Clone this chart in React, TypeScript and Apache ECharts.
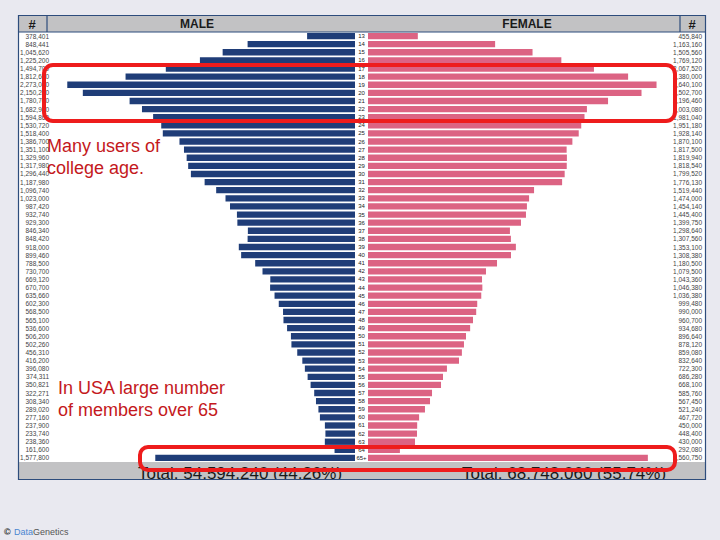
import React, { useEffect, useRef } from "react";
import * as echarts from "echarts";

const ages: string[] = [
  "13","14","15","16","17","18","19","20","21","22","23","24","25","26","27","28","29","30",
  "31","32","33","34","35","36","37","38","39","40","41","42","43","44","45","46","47","48",
  "49","50","51","52","53","54","55","56","57","58","59","60","61","62","63","64","65+",
];

const maleValues: number[] = [
  378401, 848441, 1045620, 1225200, 1494700, 1812600, 2273040, 2150200, 1780700, 1682900,
  1594860, 1530720, 1518400, 1386700, 1351100, 1329960, 1317980, 1296440, 1187980, 1096740,
  1023000, 987420, 932740, 929300, 846340, 848420, 918000, 899460, 788500, 730700,
  669120, 670700, 635660, 602300, 568500, 565100, 536600, 506200, 502260, 456310,
  416200, 396080, 374311, 350821, 322271, 308340, 289020, 277160, 237900, 233740,
  238360, 161600, 1577800,
];

const femaleValues: number[] = [
  455840, 1163160, 1505560, 1769120, 2067520, 2380000, 2640100, 2502700, 2196460, 2003080,
  1981040, 1951180, 1928140, 1870100, 1817500, 1819940, 1818540, 1799520, 1776130, 1519440,
  1474000, 1454140, 1445400, 1399750, 1298640, 1307560, 1353100, 1308380, 1180500, 1079500,
  1043360, 1046380, 1036380, 999480, 990000, 960700, 934680, 896640, 878120, 859080,
  832640, 722300, 686280, 668100, 585760, 567450, 521240, 467720, 450000, 448400,
  430000, 292080, 2560750,
];

const headerLabels: string[] = ["#", "MALE", "FEMALE", "#"];
const totalLabels: string[] = ["Total: 54,594,240 (44.26%)", "Total: 68,748,060 (55.74%)"];
const noteTop: string[] = ["Many users of", "college age."];
const noteBottom: string[] = ["In USA large number", "of members over 65"];

const fmt = (v: number) => v.toLocaleString("en-US");

export default function App() {
  const ref = useRef<HTMLDivElement>(null);
  useEffect(() => {
    if (!ref.current) return;
    const chart = echarts.init(ref.current, null, { renderer: "svg" });
    const F = "Liberation Sans, Arial, sans-serif";
    const gridTop = 32;
    const gridH = 430;
    const male = "#1f3d78";
    const female = "#dc6383";
    const frame = "#2d4c7c";
    const redBox = "#ee1c1c";
    const redText = "#c41820";
    const bg = "#e9e9f0";

    chart.setOption({
      animation: false,
      backgroundColor: bg,
      grid: [
        { left: 50, top: gridTop, width: 305, height: gridH },
        { left: 368, top: gridTop, width: 332, height: gridH },
      ],
      xAxis: [
        { gridIndex: 0, type: "value", min: 0, max: 2409500, inverse: true, show: false },
        { gridIndex: 1, type: "value", min: 0, max: 3037800, show: false },
      ],
      yAxis: [
        {
          gridIndex: 0, type: "category", data: ages, inverse: true, position: "left",
          axisLine: { show: false }, axisTick: { show: false },
          axisLabel: {
            interval: 0, margin: 1, fontSize: 6.5, color: "#444", fontFamily: F,
            formatter: (_v: string, i: number) => fmt(maleValues[i]),
          },
        },
        {
          gridIndex: 0, type: "category", data: ages, inverse: true, position: "right",
          axisLine: { show: false }, axisTick: { show: false },
          axisLabel: { interval: 0, margin: 6.5, align: "center", fontSize: 6, color: "#222", fontFamily: F },
        },
        {
          gridIndex: 1, type: "category", data: ages, inverse: true, position: "right",
          axisLine: { show: false }, axisTick: { show: false },
          axisLabel: {
            interval: 0, margin: 2, align: "right", fontSize: 6.5, color: "#444", fontFamily: F,
            formatter: (_v: string, i: number) => fmt(femaleValues[i]),
          },
        },
      ],
      series: [
        {
          type: "bar", name: "MALE", xAxisIndex: 0, yAxisIndex: 0, data: maleValues,
          itemStyle: { color: male }, barCategoryGap: "22%", z: 3,
        },
        {
          type: "bar", name: "FEMALE", xAxisIndex: 1, yAxisIndex: 2, data: femaleValues,
          itemStyle: { color: female }, barCategoryGap: "22%", z: 3,
        },
      ],
      graphic: [
        { type: "rect", z: -10, shape: { x: 18, y: 15, width: 688, height: 465 }, style: { fill: "#ffffff" } },
        { type: "rect", z: 1, shape: { x: 18, y: 15, width: 688, height: 17 }, style: { fill: "#c2c2c4" } },
        { type: "line", z: 2, shape: { x1: 47, y1: 15, x2: 47, y2: 32 }, style: { stroke: frame, lineWidth: 1.2 } },
        { type: "line", z: 2, shape: { x1: 680, y1: 15, x2: 680, y2: 32 }, style: { stroke: frame, lineWidth: 1.2 } },
        { type: "line", z: 2, shape: { x1: 18, y1: 32, x2: 706, y2: 32 }, style: { stroke: frame, lineWidth: 1 } },
        { type: "text", z: 2, x: 32, y: 24, style: { text: headerLabels[0], font: `bold 13px ${F}`, fill: "#1a1a1a", align: "center", verticalAlign: "middle" } },
        { type: "text", z: 2, x: 197, y: 24, style: { text: headerLabels[1], font: `bold 12px ${F}`, fill: "#1a1a1a", align: "center", verticalAlign: "middle" } },
        { type: "text", z: 2, x: 527, y: 24, style: { text: headerLabels[2], font: `bold 12px ${F}`, fill: "#1a1a1a", align: "center", verticalAlign: "middle" } },
        { type: "text", z: 2, x: 692, y: 24, style: { text: headerLabels[3], font: `bold 13px ${F}`, fill: "#1a1a1a", align: "center", verticalAlign: "middle" } },
        { type: "rect", z: 1, shape: { x: 18, y: 462, width: 688, height: 18 }, style: { fill: "#c2c2c4" } },
        { type: "text", z: 2, x: 240, y: 473, style: { text: totalLabels[0], font: `17px ${F}`, fill: "#1a1a1a", align: "center", verticalAlign: "middle" } },
        { type: "text", z: 2, x: 564, y: 473, style: { text: totalLabels[1], font: `17px ${F}`, fill: "#1a1a1a", align: "center", verticalAlign: "middle" } },
        { type: "rect", z: 3, shape: { x: 0, y: 480, width: 720, height: 12 }, style: { fill: bg } },
        { type: "rect", z: 4, shape: { x: 18.5, y: 15.5, width: 687, height: 464 }, style: { fill: "none", stroke: frame, lineWidth: 1.2 } },
        { type: "rect", z: 20, shape: { x: 44, y: 65, width: 631, height: 56, r: 9 }, style: { fill: "none", stroke: redBox, lineWidth: 4 } },
        { type: "rect", z: 20, shape: { x: 140, y: 447, width: 535, height: 23, r: 8 }, style: { fill: "none", stroke: redBox, lineWidth: 4 } },
        { type: "text", z: 20, x: 47, y: 146, style: { text: noteTop[0], font: `18px ${F}`, fill: redText, verticalAlign: "middle" } },
        { type: "text", z: 20, x: 47, y: 168, style: { text: noteTop[1], font: `18px ${F}`, fill: redText, verticalAlign: "middle" } },
        { type: "text", z: 20, x: 58, y: 388, style: { text: noteBottom[0], font: `18px ${F}`, fill: redText, verticalAlign: "middle" } },
        { type: "text", z: 20, x: 58, y: 410, style: { text: noteBottom[1], font: `18px ${F}`, fill: redText, verticalAlign: "middle" } },
        {
          type: "text", z: 20, x: 4, y: 532,
          style: {
            text: "{c|©} {d|Data}{g|Genetics}",
            verticalAlign: "middle",
            rich: {
              c: { font: `bold 9px ${F}`, fill: "#222" },
              d: { font: `9px ${F}`, fill: "#4a86d0" },
              g: { font: `9px ${F}`, fill: "#555" },
            },
          },
        },
      ],
    });
    return () => chart.dispose();
  }, []);
  return (
    <div
      ref={ref}
      style={{ position: "fixed", left: 0, top: 0, width: 720, height: 540 }}
    />
  );
}
